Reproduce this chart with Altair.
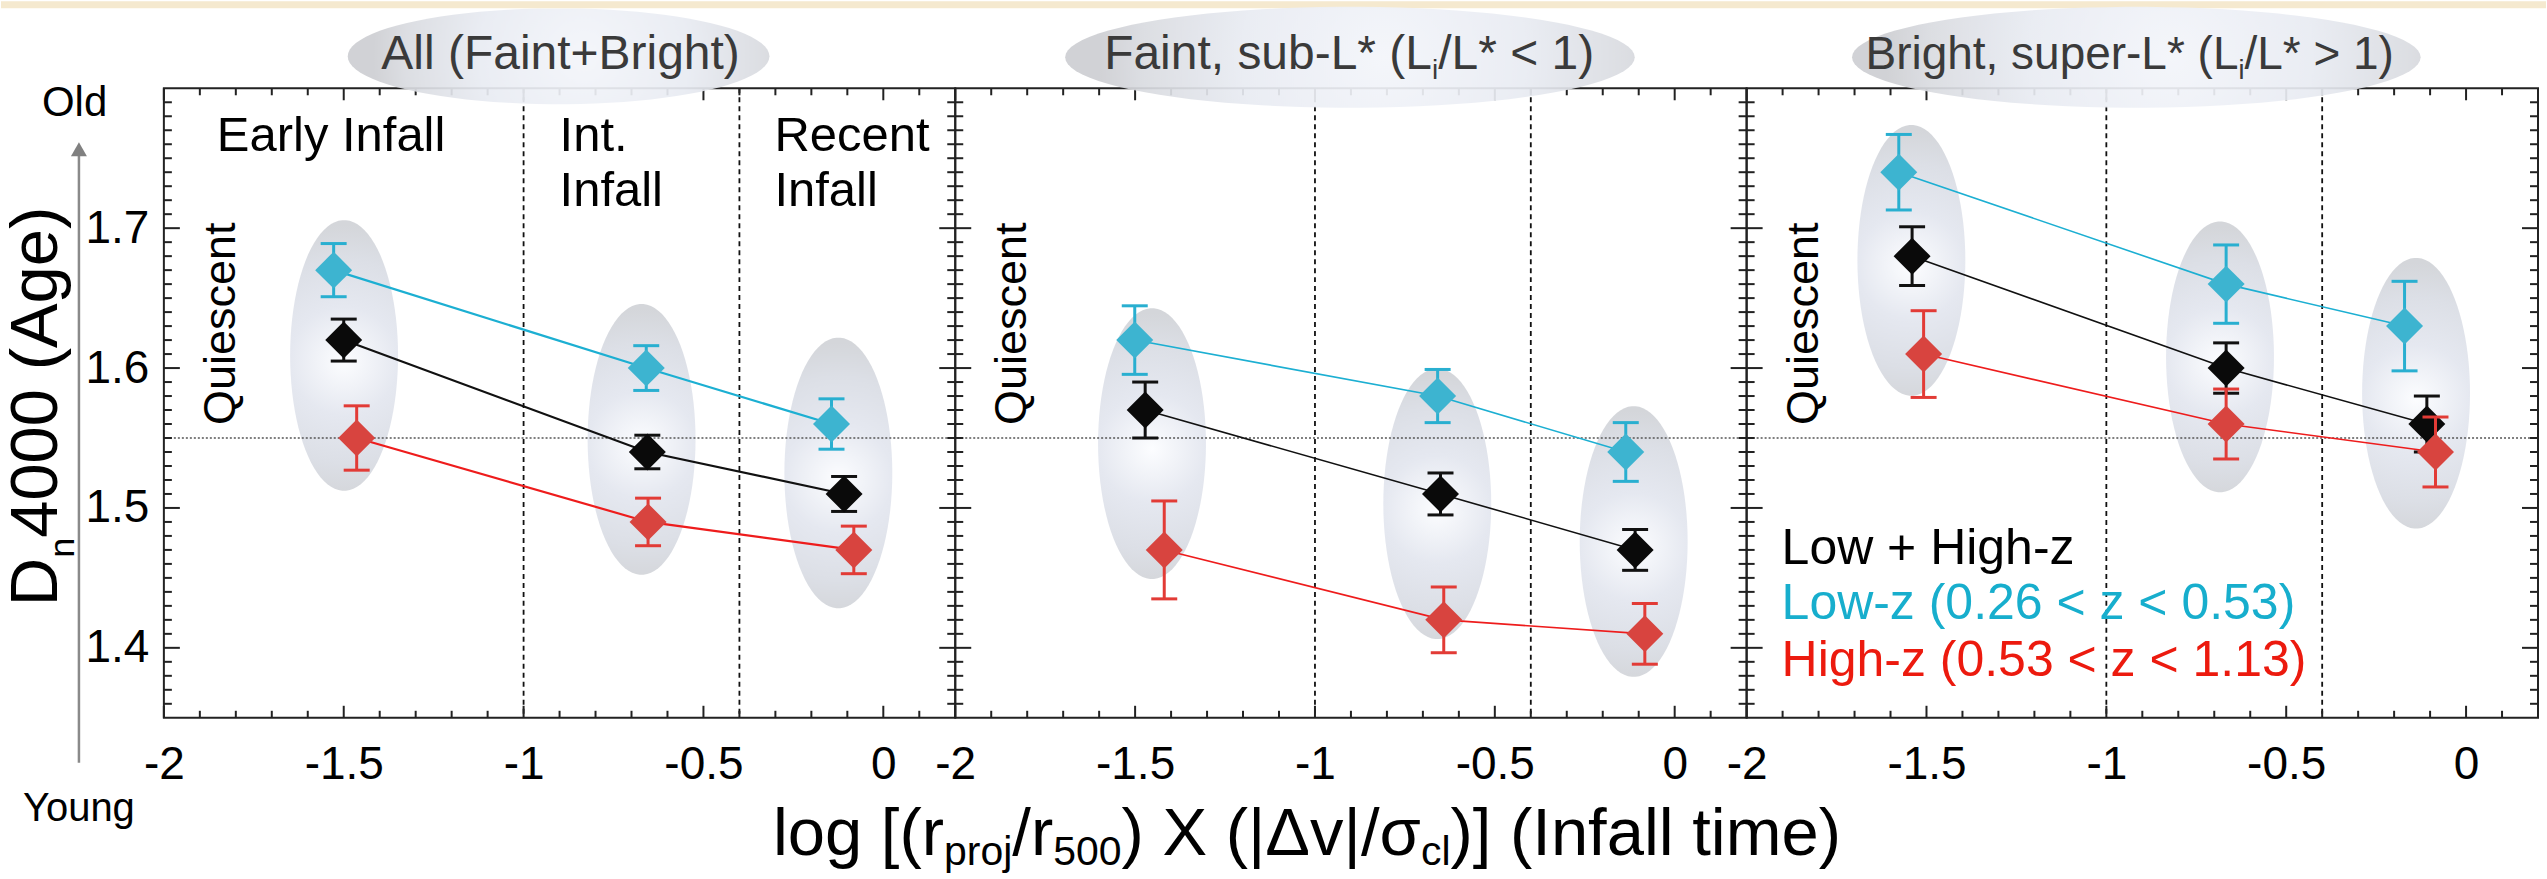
import altair as alt
import numpy as np
import pandas as pd

# ---------------- values ----------------
SERIES = ["both", "low", "high"]

# Panel 1: All (Faint+Bright)
all_both_x = [-1.500, -0.656, -0.109]
all_both_y = [1.620, 1.540, 1.510]
all_both_err = [0.015, 0.012, 0.0125]
all_low_x = [-1.528, -0.659, -0.144]
all_low_y = [1.670, 1.600, 1.560]
all_low_err = [0.019, 0.016, 0.018]
all_high_x = [-1.464, -0.654, -0.082]
all_high_y = [1.550, 1.490, 1.470]
all_high_err = [0.023, 0.017, 0.017]
all_ell_x = [-1.499, -0.672, -0.125]
all_ell_y = [1.609, 1.549, 1.525]

# Panel 2: Faint, sub-L*
faint_both_x = [-1.472, -0.651, -0.110]
faint_both_y = [1.570, 1.510, 1.470]
faint_both_err = [0.020, 0.015, 0.0146]
faint_low_x = [-1.501, -0.659, -0.136]
faint_low_y = [1.620, 1.580, 1.540]
faint_low_err = [0.0245, 0.019, 0.021]
faint_high_x = [-1.419, -0.642, -0.083]
faint_high_y = [1.470, 1.420, 1.410]
faint_high_err = [0.035, 0.0235, 0.0217]
faint_ell_x = [-1.453, -0.660, -0.114]
faint_ell_y = [1.546, 1.503, 1.476]

# Panel 3: Bright, super-L*
bright_both_x = [-1.540, -0.667, -0.109]
bright_both_y = [1.680, 1.600, 1.560]
bright_both_err = [0.021, 0.018, 0.020]
bright_low_x = [-1.577, -0.667, -0.171]
bright_low_y = [1.740, 1.660, 1.630]
bright_low_err = [0.027, 0.028, 0.032]
bright_high_x = [-1.508, -0.667, -0.085]
bright_high_y = [1.610, 1.560, 1.540]
bright_high_err = [0.031, 0.025, 0.025]
bright_ell_x = [-1.542, -0.684, -0.139]
bright_ell_y = [1.677, 1.608, 1.582]

# axes
X_DOMAIN = [-2.0, 0.2]
Y_DOMAIN = [1.35, 1.80]
X_TICKS = [-2.0, -1.5, -1.0, -0.5, 0.0]
Y_TICKS = [1.4, 1.5, 1.6, 1.7]
X_MINOR = [v for v in np.round(np.arange(-1.9, 0.15, 0.1), 2) if v not in X_TICKS]
Y_MINOR = [v for v in np.round(np.arange(1.36, 1.80, 0.01), 2) if round(v * 10, 6) != round(v * 10)]
REF_Y = [1.55]
ZONE_X = [-1.0, -0.4]

LEGEND = ["Low + High-z", "Low-z (0.26 < z < 0.53)", "High-z (0.53 < z < 1.13)"]

# ---------------- styles ----------------
W, H = 792, 630
FONT = "Liberation Sans"
LINE_C = {"both": "#111111", "low": "#1cafd2", "high": "#ee1c1c"}
ERR_C = {"both": "#111111", "low": "#29afd0", "high": "#e23b36"}
MARK_C = {"both": "#0a0a0a", "low": "#3db4d0", "high": "#d8443f"}
TEXT_C = {"both": "#000000", "low": "#17aecd", "high": "#ec1a0e"}
TICK_C = "#222222"
HDR_C = "#3a3a3a"

# Arial / Liberation Sans advance widths (1/1000 em)
AW = {' ': 278, '(': 333, ')': 333, '*': 389, '+': 584, ',': 278, '-': 333, '.': 278,
      '/': 278, '<': 584, '>': 584, 'A': 667, 'B': 667, 'D': 722, 'E': 667, 'F': 611,
      'H': 722, 'I': 278, 'L': 556, 'O': 778, 'Q': 778, 'X': 667, 'Y': 667, '[': 278,
      ']': 278, 'a': 556, 'b': 556, 'c': 500, 'e': 556, 'f': 278, 'g': 556, 'h': 556,
      'i': 222, 'j': 222, 'l': 222, 'm': 833, 'n': 556, 'o': 556, 'p': 556, 'r': 333,
      's': 500, 't': 278, 'u': 556, 'v': 500, 'w': 722, 'y': 500, 'z': 500, '|': 260,
      'Δ': 668, 'σ': 617}
for d in "0123456789":
    AW[d] = 556


def tw(s, size):
    return sum(AW.get(c, 556) for c in s) * size / 1000.0


def ellipse_path(rx, ry, n=90):
    pts = [(rx * np.cos(t), ry * np.sin(t)) for t in np.linspace(0, 2 * np.pi, n, endpoint=False)]
    return "M" + " L".join(f"{x:.4f},{y:.4f}" for x, y in pts) + " Z"


ELL_RX, ELL_RY = 54.0, 135.5
ELL_PATH = ellipse_path(ELL_RX / ELL_RY, 1.0)
ELL_SIZE = (2 * ELL_RY) ** 2
ELL_GRAD = alt.RadialGradient(
    gradient="radial", x1=0.5, y1=0.52, r1=0, x2=0.5, y2=0.52, r2=0.5,
    stops=[alt.GradientStop(offset=0, color="#fcfdff"),
           alt.GradientStop(offset=0.4, color="#e5e8f0"),
           alt.GradientStop(offset=0.75, color="#dcdfe6"),
           alt.GradientStop(offset=1, color="#d4d6da")])
HDR_GRAD = alt.RadialGradient(
    gradient="radial", x1=0.56, y1=0.5, r1=0, x2=0.56, y2=0.5, r2=0.5,
    stops=[alt.GradientStop(offset=0, color="#f3f5fa"),
           alt.GradientStop(offset=0.5, color="#e8ebf2"),
           alt.GradientStop(offset=0.85, color="#d9dbe0"),
           alt.GradientStop(offset=1, color="#cdced2")])

ONE = pd.DataFrame({"_": [0]})


def txt(s, x, y, size, color="black", angle=0, align="left", font=FONT):
    return alt.Chart(ONE).mark_text(
        text=s, font=font, fontSize=size, color=color, angle=angle,
        align=align, baseline="alphabetic").encode(x=alt.value(x), y=alt.value(y))


def pieces(items, x0, base_main, base_sub, main, sub, color="black"):
    """items: list of (text, is_sub)"""
    out = []
    x = x0
    for s, is_sub in items:
        size = sub if is_sub else main
        out.append(txt(s, x, base_sub if is_sub else base_main, size, color))
        x += tw(s, size)
    return out


XAXIS = alt.Axis(values=X_TICKS, labelExpr="'' + datum.value", labelFont=FONT,
                 labelFontSize=46, labelColor="black", labelPadding=25, labelFlush=False,
                 labelOverlap=False, ticks=False, tickSize=0, domain=False, grid=False,
                 title=None)
YAXIS = alt.Axis(values=Y_TICKS, labelExpr="'' + datum.value", labelFont=FONT,
                 labelFontSize=46, labelColor="black", labelPadding=15, labelFlush=False,
                 labelOverlap=False, ticks=False, tickSize=0, domain=False, grid=False,
                 title=None)
XSCALE = alt.Scale(domain=X_DOMAIN, nice=False, zero=False)
YSCALE = alt.Scale(domain=Y_DOMAIN, nice=False, zero=False)


def make_panel(series_vals, ell_x, ell_y, show_y, lw, header_layers, extra_layers):
    yaxis = YAXIS if show_y else None

    def xenc(f):
        return alt.X(f, type="quantitative", scale=XSCALE, axis=XAXIS)

    def yenc(f):
        return alt.Y(f, type="quantitative", scale=YSCALE, axis=yaxis)

    rows = []
    for s, (xs, ys, es) in zip(SERIES, series_vals):
        for x, y, e in zip(xs, ys, es):
            rows.append({"series": s, "x": x, "y": y, "lo": y - e, "hi": y + e})
    df = pd.DataFrame(rows)

    layers = []
    # grey ellipses behind each infall group
    layers.append(alt.Chart(pd.DataFrame({"x": ell_x, "y": ell_y})).mark_point(
        shape=ELL_PATH, size=ELL_SIZE, filled=True, fill=ELL_GRAD, strokeWidth=0,
        opacity=1).encode(x=xenc("x"), y=yenc("y")))
    # reference lines
    layers.append(alt.Chart(pd.DataFrame({"y": REF_Y})).mark_rule(
        color="#555555", strokeDash=[2, 2], strokeWidth=1.3).encode(y=yenc("y")))
    layers.append(alt.Chart(pd.DataFrame({"x": ZONE_X})).mark_rule(
        color="#111111", strokeDash=[5, 4], strokeWidth=1.8).encode(x=xenc("x")))
    # inward ticks
    for vals, ln in [(X_TICKS, 12), (X_MINOR, 7)]:
        d = pd.DataFrame({"v": vals})
        layers.append(alt.Chart(d).mark_rule(color=TICK_C, strokeWidth=2).encode(
            x=xenc("v"), y=alt.value(H), y2=alt.value(H - ln)))
        layers.append(alt.Chart(d).mark_rule(color=TICK_C, strokeWidth=2).encode(
            x=xenc("v"), y=alt.value(0), y2=alt.value(ln)))
    for vals, ln in [(Y_TICKS, 16), (Y_MINOR, 8)]:
        d = pd.DataFrame({"v": vals})
        layers.append(alt.Chart(d).mark_rule(color=TICK_C, strokeWidth=2).encode(
            y=yenc("v"), x=alt.value(0), x2=alt.value(ln)))
        layers.append(alt.Chart(d).mark_rule(color=TICK_C, strokeWidth=2).encode(
            y=yenc("v"), x=alt.value(W), x2=alt.value(W - ln)))
    # data series
    for s in SERIES:
        base = alt.Chart(df).transform_filter(alt.datum.series == s)
        layers.append(base.mark_line(color=LINE_C[s], strokeWidth=lw).encode(
            x=xenc("x"), y=yenc("y")))
        layers.append(base.mark_rule(color=ERR_C[s], strokeWidth=3).encode(
            x=xenc("x"), y=yenc("lo"), y2=alt.Y2("hi")))
        for f in ["lo", "hi"]:
            layers.append(base.mark_tick(orient="horizontal", size=26, thickness=3,
                                         color=ERR_C[s], opacity=1).encode(
                x=xenc("x"), y=yenc(f)))
        layers.append(base.mark_point(shape="diamond", size=1369, filled=True,
                                      color=MARK_C[s], opacity=1, strokeWidth=0).encode(
            x=xenc("x"), y=yenc("y")))
    # "Quiescent"
    layers.append(txt("Quiescent", 71, 337, 45, angle=270))
    layers += header_layers
    layers += extra_layers
    return alt.layer(*layers).properties(width=W, height=H)


def header(cx, cy, w, h):
    path = ellipse_path(1.0, h / w)
    return alt.Chart(ONE).mark_point(shape=path, size=w * w, filled=True, fill=HDR_GRAD,
                                     strokeWidth=0, opacity=0.92).encode(
        x=alt.value(cx), y=alt.value(cy))


# ---------- panel 1 extras ----------
p1_header = [header(395, -32, 422, 96),
             txt("All (Faint+Bright)", 397, -19, 48, HDR_C, align="center")]
p1_extra = [
    # beige band at the very top (also anchors the page origin)
    alt.Chart(ONE).mark_rect(color="#f5e9cf").encode(
        x=alt.value(-163), x2=alt.value(2384), y=alt.value(-87), y2=alt.value(-80)),
    alt.Chart(ONE).mark_rect(color="#ffffff").encode(
        x=alt.value(-163), x2=alt.value(2384), y=alt.value(790), y2=alt.value(792)),
    txt("Early Infall", 53, 63, 49),
    txt("Int.", 396, 63, 49), txt("Infall", 396, 118, 49),
    txt("Recent", 611, 63, 49), txt("Infall", 611, 118, 49),
    txt("Old", -122, 28, 42),
    txt("Young", -141, 733, 40),
    alt.Chart(ONE).mark_rule(color="#8a8a8a", strokeWidth=2.5).encode(
        x=alt.value(-85), y=alt.value(66), y2=alt.value(675)),
    alt.Chart(ONE).mark_point(shape="triangle-up", size=256, filled=True, color="#808080",
                              opacity=1, strokeWidth=0).encode(
        x=alt.value(-85), y=alt.value(61)),
    # y title D_n4000 (Age), rotated
    txt("D", -107, 518.3, 67, angle=270),
    txt("n", -90, 518.3 - tw("D", 67), 36, angle=270),
    txt("4000 (Age)", -107, 518.3 - tw("D", 67) - tw("n", 36), 67, angle=270),
]
# x title across panels
p1_extra += pieces([("log [(r", False), ("proj", True), ("/r", False), ("500", True),
                    (") X (|Δv|/σ", False), ("cl", True), (")] (Infall time)", False)],
                   609.5, 767, 777, 67, 41)

p2_header = [header(395, -31, 570, 101)]
p2_header += pieces([("Faint, sub-L* (L", False), ("i", True), ("/L* < 1)", False)],
                    149, -19, -9, 48, 28, HDR_C)

p3_header = [header(390, -31, 569, 101)]
p3_header += pieces([("Bright, super-L* (L", False), ("i", True), ("/L* > 1)", False)],
                    119, -19, -9, 46, 27, HDR_C)
p3_extra = [txt(LEGEND[0], 35, 476, 50, TEXT_C["both"]),
            txt(LEGEND[1], 35, 531, 50, TEXT_C["low"]),
            txt(LEGEND[2], 35, 588, 50, TEXT_C["high"])]

p1 = make_panel([(all_both_x, all_both_y, all_both_err),
                 (all_low_x, all_low_y, all_low_err),
                 (all_high_x, all_high_y, all_high_err)],
                all_ell_x, all_ell_y, True, 2.2, p1_header, p1_extra)
p2 = make_panel([(faint_both_x, faint_both_y, faint_both_err),
                 (faint_low_x, faint_low_y, faint_low_err),
                 (faint_high_x, faint_high_y, faint_high_err)],
                faint_ell_x, faint_ell_y, False, 1.6, p2_header, [])
p3 = make_panel([(bright_both_x, bright_both_y, bright_both_err),
                 (bright_low_x, bright_low_y, bright_low_err),
                 (bright_high_x, bright_high_y, bright_high_err)],
                bright_ell_x, bright_ell_y, False, 1.6, p3_header, p3_extra)

chart = alt.hconcat(p1, p2, p3, spacing=0, bounds="flush").properties(
    padding=0, background="white"
).configure_view(stroke="#222222", strokeWidth=2)

chart.save("out.html", embed_options={"renderer": "svg", "actions": False})
